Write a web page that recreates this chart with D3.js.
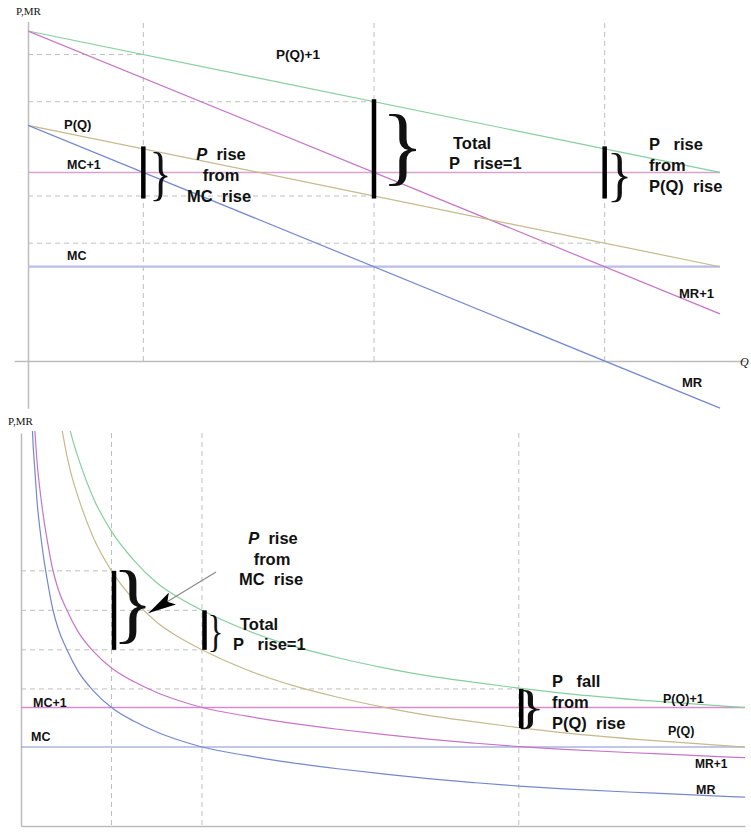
<!DOCTYPE html>
<html><head><meta charset="utf-8">
<script src="https://cdn.jsdelivr.net/npm/d3@7/dist/d3.min.js"></script>
<style>
html,body{margin:0;padding:0;background:#fff;}
svg{display:block;}
.lbl{font-family:"Liberation Sans",Arial,sans-serif;font-weight:bold;fill:#111;}
.ser{font-family:"Liberation Serif","Times New Roman",serif;fill:#111;}
</style>
</head><body>
<div id="chart"></div>
<script>
// ---------- TOP PANEL DATA (linear demand) ----------
const topQ    = [0, 3];
const topP    = [2.5, 1.0];     // P(Q)
const topP1   = [3.5, 2.0];     // P(Q)+1
const topMR   = [2.5, -0.5];    // MR
const topMR1  = [3.5, 0.5];     // MR+1
const topMC   = [1, 1];         // MC
const topMC1  = [2, 2];         // MC+1
const topEqQ      = [0.5, 1.5, 2.5];          // vertical guide lines
const topGuideV   = [3.25, 2.75, 1.75, 1.25]; // horizontal guide lines (value)
const topGuideEnd = [0.5, 1.5, 1.5, 2.5];     // ... running to this Q
const topBarQ  = [0.5, 1.5, 2.5];
const topBarLo = [1.75, 1.75, 1.75];
const topBarHi = [2.25, 2.75, 2.25];

// ---------- BOTTOM PANEL DATA (convex demand) ----------
const botQP   = [0.40, 0.46, 0.50, 0.55, 0.65, 0.80, 1.00, 1.25, 1.50, 1.75, 2.00, 2.50, 3.00, 3.50, 4.00, 4.50, 5.00, 5.50, 6.00, 7.00, 8.00];
const botP    = [10.7, 9.95, 9.45, 8.95, 8.2, 7.3, 6.46, 5.72, 5.16, 4.77, 4.46, 3.95, 3.56, 3.26, 3.01, 2.80, 2.64, 2.49, 2.36, 2.16, 2.00];
const botP1   = [11.7, 10.95, 10.45, 9.95, 9.2, 8.3, 7.46, 6.72, 6.16, 5.77, 5.46, 4.95, 4.56, 4.26, 4.01, 3.80, 3.64, 3.49, 3.36, 3.16, 3.00];
const botQMR  = [0.10, 0.125, 0.155, 0.18, 0.21, 0.25, 0.30, 0.35, 0.41, 0.50, 0.63, 0.80, 1.00, 1.25, 1.50, 1.75, 2.00, 2.50, 3.00, 3.50, 4.00, 4.50, 5.00, 5.50, 6.00, 7.00, 8.00];
const botMR   = [12.4, 10.1, 8.95, 8.15, 7.5, 6.8, 6.1, 5.5, 5.0, 4.5, 3.92, 3.42, 3.0, 2.65, 2.38, 2.17, 2.0, 1.78, 1.6, 1.45, 1.32, 1.2, 1.1, 1.01, 0.94, 0.83, 0.73];
const botMR1  = [13.4, 11.1, 9.95, 9.15, 8.5, 7.8, 7.1, 6.5, 6.0, 5.5, 4.92, 4.42, 4.0, 3.65, 3.38, 3.17, 3.0, 2.78, 2.6, 2.45, 2.32, 2.2, 2.1, 2.01, 1.94, 1.83, 1.73];
const botQC   = [0, 8];
const botMC   = [2, 2];
const botMC1  = [3, 3];
const botEqQ      = [1, 2, 5.5];
const botGuideV   = [6.46, 5.46, 4.46, 3.47];
const botGuideEnd = [1, 2, 2, 5.5];
const botBarQ  = [1, 2, 5.5];
const botBarLo = [4.46, 4.46, 2.48];
const botBarHi = [6.46, 5.46, 3.47];

// ---------- SETUP ----------
const W = 751, H = 832;
const svg = d3.select("#chart").append("svg").attr("width", W).attr("height", H);

const xT = d3.scaleLinear().domain([0, 3]).range([28, 720]);
const yT = d3.scaleLinear().domain([0, 3.5]).range([361, 31]);
const xB = d3.scaleLinear().domain([0, 8]).range([21, 745]);
const yB = d3.scaleLinear().domain([0, 10]).range([826, 431]);

const C = {
  green: "#86cf9c", magenta: "#c874c8", tan: "#c6b98c", blue: "#7488cf",
  mcTop: "#babcea", mc1Top: "#d7a3d0", mcBot: "#8190d2", mc1Bot: "#d68ccd",
  axis: "#bdbdbd", guide: "#bfbfbf"
};

function zip(a, b) { return a.map((v, i) => [v, b[i]]); }

function axisLine(g, scale, lo, hi, orient, at) {
  const s = scale.copy().domain([lo, hi]).range([scale(lo), scale(hi)]);
  const ax = (orient === "left" ? d3.axisLeft(s) : d3.axisBottom(s)).tickValues([]).tickSizeOuter(0);
  const a = g.append("g")
    .attr("transform", orient === "left" ? `translate(${at},0)` : `translate(0,${at})`)
    .call(ax);
  a.select(".domain").attr("stroke", C.axis).attr("stroke-width", 1.5);
  return a;
}

// measure ink box of the brace glyph
const BRACE_FONT = "'Liberation Serif', 'Times New Roman', serif";
const bm = (() => {
  const ctx = document.createElement("canvas").getContext("2d");
  ctx.font = "100px " + BRACE_FONT;
  const m = ctx.measureText("}");
  let a = m.actualBoundingBoxAscent, d = m.actualBoundingBoxDescent,
      l = m.actualBoundingBoxLeft, r = m.actualBoundingBoxRight;
  if (!(a + d > 10)) { a = 68; d = 18; l = -10; r = 35; }
  return { a, d, l, r };
})();

function brace(g, x0, yTop, yBot, w) {
  const h = yBot - yTop;
  const sx = w / (bm.r + bm.l), sy = h / (bm.a + bm.d);
  g.append("text").attr("class", "ser")
    .attr("transform", `translate(${x0 + bm.l * sx},${yTop + bm.a * sy}) scale(${sx},${sy})`)
    .attr("font-size", 100).text("}");
}

function panel(cfg) {
  const g = svg.append("g");
  const { x, y } = cfg;
  cfg.eqQ.forEach(q => {
    g.append("line").attr("x1", x(q)).attr("x2", x(q))
      .attr("y1", cfg.guideTop).attr("y2", cfg.guideBottom)
      .attr("stroke", C.guide).attr("stroke-width", 1).attr("stroke-dasharray", "5,4");
  });
  cfg.guideV.forEach((v, i) => {
    g.append("line").attr("x1", x(0)).attr("x2", x(cfg.guideEnd[i]))
      .attr("y1", y(v)).attr("y2", y(v))
      .attr("stroke", C.guide).attr("stroke-width", 1).attr("stroke-dasharray", "5,4");
  });
  axisLine(g, y, cfg.yAxis[0], cfg.yAxis[1], "left", x(0));
  axisLine(g, x, cfg.xAxis[0], cfg.xAxis[1], "bottom", y(0));
  const cid = "clip" + cfg.id;
  g.append("clipPath").attr("id", cid).append("rect")
    .attr("x", x(0)).attr("y", cfg.clipTop).attr("width", W).attr("height", H);
  const lines = g.append("g").attr("clip-path", `url(#${cid})`);
  const line = d3.line().x(d => x(d[0])).y(d => y(d[1])).curve(cfg.curve);
  cfg.series.forEach(s => {
    lines.append("path").datum(s.data).attr("d", line)
      .attr("fill", "none").attr("stroke", s.color).attr("stroke-width", s.w || 1.2);
  });
  cfg.barQ.forEach((q, i) => {
    g.append("line").attr("x1", x(q) + cfg.barDx).attr("x2", x(q) + cfg.barDx)
      .attr("y1", y(cfg.barLo[i]) + cfg.barExt).attr("y2", y(cfg.barHi[i]) - cfg.barExt)
      .attr("stroke", "#000").attr("stroke-width", 4.5);
  });
  cfg.braces.forEach(b => {
    brace(g, x(b.q) + b.dx, y(b.hi), y(b.lo), b.w);
  });
  return g;
}

// ---------- TOP PANEL ----------
const gTop = panel({
  id: "T", x: xT, y: yT, curve: d3.curveLinear,
  guideTop: 23, guideBottom: 361, clipTop: 0,
  eqQ: topEqQ, guideV: topGuideV, guideEnd: topGuideEnd,
  yAxis: [-0.5, 3.6], xAxis: [-0.06, 3.11],
  series: [
    { data: zip(topQ, topMC1), color: C.mc1Top, w: 1.5 },
    { data: zip(topQ, topMC), color: C.mcTop, w: 2.2 },
    { data: zip(topQ, topP1), color: C.green },
    { data: zip(topQ, topMR1), color: C.magenta },
    { data: zip(topQ, topP), color: C.tan },
    { data: zip(topQ, topMR), color: C.blue }
  ],
  barQ: topBarQ, barLo: topBarLo, barHi: topBarHi, barDx: 0, barExt: 2.5,
  braces: [
    { q: 0.5, dx: 10, w: 14, hi: 2.22, lo: 1.70 },
    { q: 1.5, dx: 15, w: 27, hi: 2.63, lo: 1.86 },
    { q: 2.5, dx: 7,  w: 16, hi: 2.21, lo: 1.69 }
  ]
});

// ---------- BOTTOM PANEL ----------
const gBot = panel({
  id: "B", x: xB, y: yB, curve: d3.curveMonotoneX,
  guideTop: 433, guideBottom: 826, clipTop: 431,
  eqQ: botEqQ, guideV: botGuideV, guideEnd: botGuideEnd,
  yAxis: [0, 9.95], xAxis: [0, 8],
  series: [
    { data: zip(botQC, botMC1), color: C.mc1Bot, w: 1.3 },
    { data: zip(botQC, botMC), color: C.mcBot },
    { data: zip(botQP, botP1), color: C.green },
    { data: zip(botQMR, botMR1), color: C.magenta },
    { data: zip(botQP, botP), color: C.tan },
    { data: zip(botQMR, botMR), color: C.blue }
  ],
  barQ: botBarQ, barLo: botBarLo, barHi: botBarHi, barDx: 2.5, barExt: 0,
  braces: [
    { q: 1,   dx: 8,   w: 26, hi: 6.48, lo: 4.63 },
    { q: 2,   dx: 8.5, w: 10, hi: 5.34, lo: 4.41 },
    { q: 5.5, dx: 2,   w: 19, hi: 3.44, lo: 2.46 }
  ]
});

// arrow (bottom panel)
svg.append("defs").append("marker").attr("id", "ah")
  .attr("viewBox", "0 0 28 14").attr("refX", 28).attr("refY", 7)
  .attr("markerWidth", 28).attr("markerHeight", 14).attr("markerUnits", "userSpaceOnUse")
  .attr("orient", "auto")
  .append("path").attr("d", "M0,0 L28,7 L0,14 L6,7 Z").attr("fill", "#000");
gBot.append("line")
  .attr("x1", xB(2.155)).attr("y1", yB(6.43)).attr("x2", xB(1.41)).attr("y2", yB(5.39))
  .attr("stroke", "#8a8a8a").attr("stroke-width", 1.2).attr("marker-end", "url(#ah)");

// ---------- TEXT ----------
function txt(x, yy, s, size, anchor) {
  return svg.append("text").attr("class", "lbl").attr("x", x).attr("y", yy)
    .attr("font-size", size).attr("text-anchor", anchor || "start")
    .style("white-space", "pre").text(s);
}
function txtItalicP(x, yy, rest, size, anchor) {
  const t = svg.append("text").attr("class", "lbl").attr("x", x).attr("y", yy)
    .attr("font-size", size).attr("text-anchor", anchor || "start").style("white-space", "pre");
  t.append("tspan").attr("font-style", "italic").text("P");
  t.append("tspan").text(rest);
  return t;
}

// axis titles
svg.append("text").attr("class", "ser").attr("x", 16).attr("y", 15).attr("font-size", 11).text("P,MR");
svg.append("text").attr("class", "ser").attr("x", 8).attr("y", 425).attr("font-size", 11).text("P,MR");
svg.append("text").attr("class", "ser").attr("x", 740).attr("y", 366).attr("font-size", 12)
  .attr("font-style", "italic").text("Q");

// top labels
txt(276, 59, "P(Q)+1", 13.5);
txt(64, 128.5, "P(Q)", 13);
txt(67, 168.5, "MC+1", 12.5);
txt(67, 259.5, "MC", 12.5);
txt(679, 297.5, "MR+1", 13);
txt(682, 386.5, "MR", 13);

// top annotations
txtItalicP(221, 160, "  rise", 16.5, "middle");
txt(221, 181, "from", 16.5, "middle");
txt(219, 202, "MC  rise", 16.5, "middle");
txt(453, 149, "Total", 16.5);
txt(449, 169, "P   rise=1", 16.5);
txt(649, 150, "P   rise", 16.5);
txt(649, 171, "from", 16.5);
txt(649, 192, "P(Q)  rise", 16.5);

// bottom labels
txt(663, 702.5, "P(Q)+1", 12.5);
txt(668, 734.5, "P(Q)", 12.5);
txt(695, 767.5, "MR+1", 12);
txt(696, 793.5, "MR", 12.5);
txt(33, 706.5, "MC+1", 12.5);
txt(31, 740.5, "MC", 12.5);

// bottom annotations
txtItalicP(273, 544, "  rise", 16.5, "middle");
txt(272, 565, "from", 16.5, "middle");
txt(271, 585, "MC  rise", 16.5, "middle");
txt(240, 630, "Total", 16.5);
txt(233, 650, "P   rise=1", 16.5);
txt(552, 687, "P   fall", 16.5);
txt(552, 708, "from", 16.5);
txt(552, 729, "P(Q)  rise", 16.5);
</script>
</body></html>
